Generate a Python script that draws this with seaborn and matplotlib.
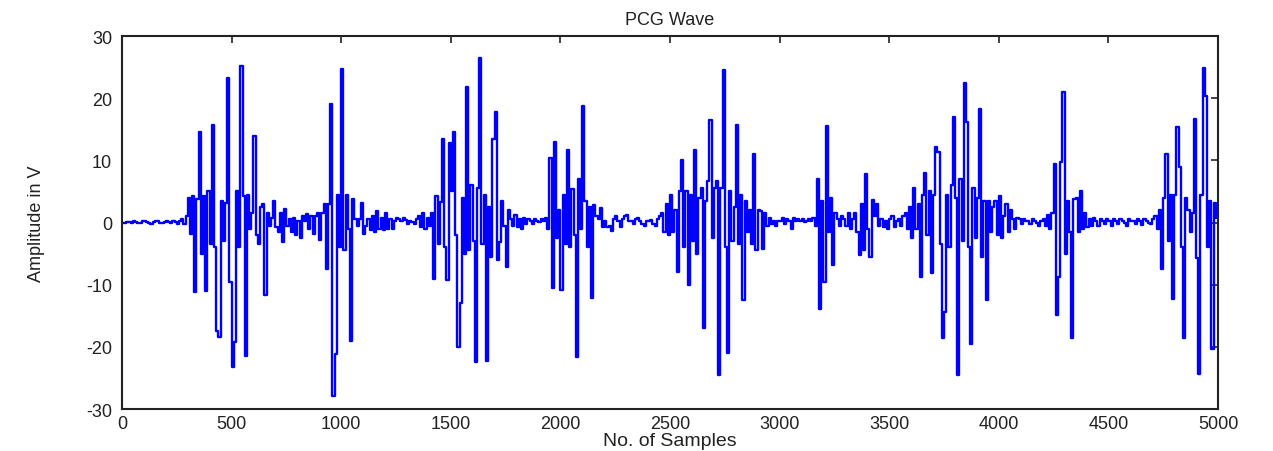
import numpy as np
import pandas as pd
import matplotlib
matplotlib.use("Agg")
import matplotlib.pyplot as plt
import seaborn as sns

# PCG recording, one held value per 10-sample step, grouped by 500-sample block
block_0000 = [0, 0, 0.1, 0.1, 0, 0.2, 0.1, 0, -0.1, 0.2,
              0.3, 0.1, 0, -0.2, 0.1, 0.3, 0.2, 0, -0.1, 0.1,
              0.3, 0.1, 0, 0.2, 0.1, -0.2, 0.3, 0.5, -0.3, 1.0,
              4.0, -1.8, 4.3, -11.2, 3.8, 14.5, -5.0, 4.2, -11.0, 5.0,
              -3.5, 15.7, -4.0, -17.4, -18.4, 3.5, -3.0, 3.2, 23.2, -9.5]
block_0500 = [-23.3, -19.3, 5.0, -4.0, 25.2, 4.2, -21.5, 4.5, -1.0, 1.5,
              13.9, -2.0, -3.5, 2.5, 3.0, -11.7, 1.5, -0.5, 0.8, 3.5,
              -0.8, -1.5, 1.5, -3.1, 2.2, -0.5, 0.5, -1.5, 0.8, -2.0,
              0.3, -2.5, 1.0, 0.3, 1.3, -1.0, 1.0, -1.8, 1.0, 1.6,
              -2.8, 1.5, 3.0, -7.5, 3.0, 19.1, -27.9, -21.2, 4.5, -4.0]
block_1000 = [24.7, -4.5, 4.5, -1.0, -19.1, 3.8, 0.5, -0.5, 0.5, 3.2,
              -1.8, -0.5, 0.5, -1.2, 1.0, -1.5, 1.8, -1.0, 0.8, -1.2,
              1.5, -1.0, 0.5, -1.0, 0.3, 0.8, 0.5, 0.2, 0.8, 0.4,
              -0.2, 0.3, 0.1, -0.3, 0.5, 1.0, -0.8, 1.5, -1.0, 0.8,
              -0.5, 1.6, -9.1, 4.3, -3.5, 3.3, 13.4, -4.0, -9.2, 12.8]
block_1500 = [5.0, 14.5, -2.0, -20.0, -13.0, 3.9, -5.0, 21.8, -4.5, 6.0,
              -3.0, -22.5, 5.5, 26.4, -3.5, 4.5, -22.2, 2.5, -5.5, 13.5,
              17.8, -6.0, -3.2, 3.5, -0.5, -7.2, 2.0, 0.5, -0.5, 1.2,
              -0.8, 0.5, -1.0, 0.8, -0.2, 0.5, 0.3, -0.3, 0.5, 0.3,
              0.1, 0.5, 0.2, 0.8, -1.0, 10.3, -10.6, 12.9, -2.5, 2.0]
block_2000 = [-10.8, 4.5, -3.5, 11.7, -4.0, 5.4, -2.0, -21.7, 7.0, -1.0,
              18.7, 3.5, -4.0, 2.5, -12.2, 2.8, 1.0, 0.5, 2.4, -0.8,
              0.2, -0.8, -0.5, -1.4, 0.5, 1.0, 0.2, -0.8, 0.5, 1.0,
              1.2, 0.3, 0.2, -0.3, 0.5, 0.8, 0.3, -0.2, -0.5, 0.3,
              0.2, 0.4, -0.3, -0.5, 0.5, 1.0, 1.5, -1.5, 3.0, -2.0]
block_2500 = [4.5, -1.5, 2.0, -8.0, 5.0, 10.0, -4.0, 5.0, -10.0, 4.5,
              -3.0, 11.7, -5.0, 4.0, 5.5, -16.9, 3.5, 6.7, 16.5, -2.5,
              5.5, 6.7, -24.5, 5.5, 24.5, -4.0, -21.0, 5.0, -3.0, 2.5,
              15.7, -3.5, 4.5, -12.5, 3.5, -1.5, 2.0, -3.5, 11.1, -4.5,
              2.0, 1.9, -4.3, 1.5, -0.5, 0.8, -0.3, 0.2, -0.5, 0.3]
block_3000 = [0.3, 0.8, -0.3, 0.5, 0.2, -1.0, 0.8, 0.3, 0.5, 0.2,
              0.6, 0.1, 0.3, 0.5, 0.2, 0.8, -0.5, 7.0, -13.9, 3.5,
              -9.6, 15.6, -1.5, 4.0, -6.8, 1.5, 0.5, -0.5, 1.0, 0.5,
              -0.5, 1.5, -1.0, 0.5, 1.5, -1.5, -5.2, 3.0, -4.5, 7.8,
              -1.0, -5.5, 3.6, 1.0, 3.0, -0.5, 0.5, -0.8, 0.3, -1.0]
block_3500 = [0.5, 1.0, -0.8, 0.3, 0.5, -0.5, 1.0, 1.5, -1.0, 2.5,
              -2.5, 5.5, -1.0, 3.0, -8.7, 4.5, 7.9, -2.0, 5.0, -8.1,
              4.5, 12.1, 11.4, -3.5, -18.5, -14.4, 4.5, -4.0, 6.0, 17.0,
              4.0, -24.5, 7.0, -3.0, 22.5, 16.2, -4.0, -19.5, 5.5, -2.5,
              4.0, 18.3, -5.5, 3.5, -12.4, 3.5, -1.5, 2.5, 3.5, -2.0]
block_4000 = [4.3, -2.5, 1.0, 3.0, -1.5, 2.0, 0.5, -1.0, 0.8, 0.5,
              -0.3, 0.5, 0.3, 0.2, -0.3, 0.5, 0.2, 0.0, -0.5, 0.3,
              0.5, -0.5, 1.2, -1.0, 1.5, 9.4, -14.8, -8.8, 9.8, 21.0,
              -5.0, 3.5, -1.5, -18.6, 3.8, 4.0, -1.5, 5.1, -1.0, 1.5,
              -0.8, 0.5, -0.5, 0.8, 0.2, -0.5, 0.5, 0.3, -0.2, 0.6]
block_4500 = [0.3, -0.5, 0.5, 0.2, -0.3, 0.6, 0.2, 0.0, -0.6, 0.5,
              0.2, 0.3, -0.2, 0.5, 0.2, -0.4, 0.5, 0.3, 0.0, -0.3,
              0.5, 1.0, -1.0, 2.0, -7.5, 4.0, 11.0, -3.0, 4.5, -12.3,
              4.5, 15.3, 9.0, -4.0, -18.5, 4.0, 2.0, -1.5, 1.5, 16.6,
              -5.7, -24.4, 4.5, 24.8, 20.4, -4.0, 3.5, -20.3, 3.2, 0.8]

blocks = [block_0000, block_0500, block_1000, block_1500, block_2000,
          block_2500, block_3000, block_3500, block_4000, block_4500]
amplitude = np.concatenate(blocks)
sample_step = 10
samples = np.arange(len(amplitude)) * sample_step

x_ticks = [0, 500, 1000, 1500, 2000, 2500, 3000, 3500, 4000, 4500, 5000]
y_ticks = [-30, -20, -10, 0, 10, 20, 30]

df = pd.DataFrame({"sample": samples, "amplitude": amplitude})

sns.set_style("white")
plt.rcParams["font.family"] = ["Liberation Sans", "DejaVu Sans"]
plt.rcParams["axes.unicode_minus"] = False

fig = plt.figure(figsize=(12.73, 4.52), dpi=100)
ax = fig.add_axes([0.0958, 0.0929, 0.8610, 0.8252])

# zero-order-hold trace, each value held for one sample step
sns.lineplot(data=df, x="sample", y="amplitude", ax=ax, color="#0000ff",
             linewidth=1.7, drawstyle="steps-post", estimator=None)

ax.set_xlim(0, 5000)
ax.set_ylim(-30, 30)
ax.set_xticks(x_ticks)
ax.set_yticks(y_ticks)
ax.tick_params(direction="in", length=5, width=1.2, top=True, right=True,
               labelsize=13, colors="#222222")
ax.tick_params(axis="y", pad=7)
ax.tick_params(axis="x", pad=4)
for side in ax.spines.values():
    side.set_visible(True)
    side.set_linewidth(1.5)
    side.set_color("#222222")

ax.set_title("PCG Wave", fontsize=13, color="#222222", pad=9)
ax.set_xlabel("No. of Samples", fontsize=14, color="#222222", labelpad=0)
ax.set_ylabel("Amplitude in V", fontsize=13, color="#222222", labelpad=30)

fig.savefig("out.png", dpi=100)
